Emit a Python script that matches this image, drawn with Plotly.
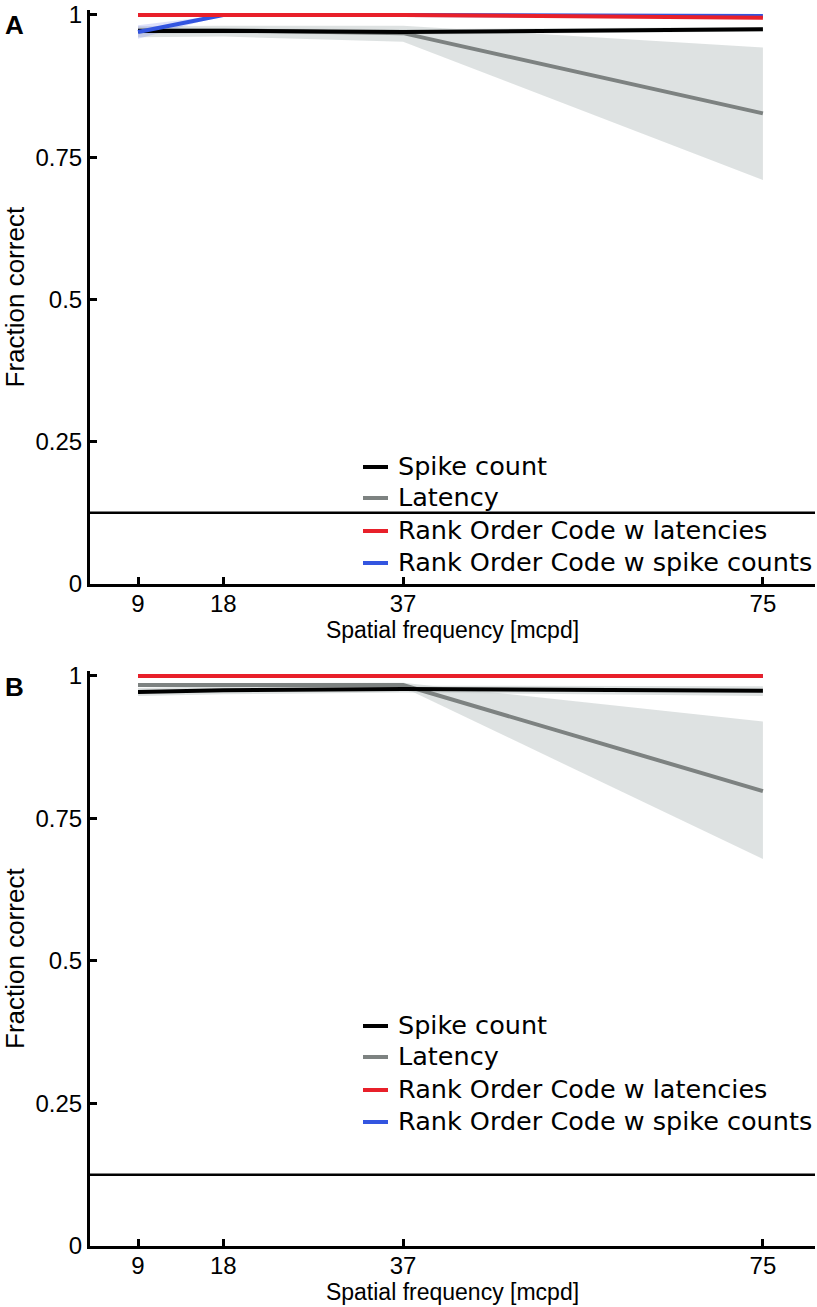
import plotly.graph_objects as go

# ---------------- data ----------------
spatial_freq = [9, 18, 37, 75]
chance_level = 0.125

# Panel A
spike_A = [0.972, 0.972, 0.970, 0.975]
spike_A_lo = [0.966, 0.967, 0.965, 0.971]
spike_A_hi = [0.978, 0.977, 0.975, 0.979]
lat_A = [0.973, 0.973, 0.968, 0.827]
lat_A_lo = [0.961, 0.962, 0.953, 0.710]
lat_A_hi = [0.980, 0.981, 0.981, 0.943]
roclat_A = [1.0, 1.0, 1.0, 0.995]
rocspk_A = [0.970, 1.0, 1.0, 0.998]
rocspk_A_lo = [0.958, 0.999, 0.999, 0.996]
rocspk_A_hi = [0.982, 1.0, 1.0, 1.0]

# Panel B
spike_B = [0.972, 0.975, 0.977, 0.974]
spike_B_lo = [0.965, 0.968, 0.971, 0.965]
spike_B_hi = [0.979, 0.982, 0.983, 0.982]
lat_B = [0.984, 0.984, 0.984, 0.798]
lat_B_lo = [0.981, 0.981, 0.980, 0.679]
lat_B_hi = [0.987, 0.987, 0.988, 0.920]
roclat_B = [1.0, 1.0, 1.0, 1.0]
rocspk_B = [1.0, 1.0, 1.0, 1.0]
rocspk_B_lo = [0.999, 0.999, 0.999, 0.999]
rocspk_B_hi = [1.0, 1.0, 1.0, 1.0]

names = ["Spike count", "Latency", "Rank Order Code w latencies", "Rank Order Code w spike counts"]
y_ticks = [0, 0.25, 0.5, 0.75, 1]
y_ticktext = ["0", "0.25", "0.5", "0.75", "1"]

C_BLACK = "#000000"
C_GRAY = "#7d8281"
C_RED = "#e8202a"
C_BLUE = "#3355e0"
colors = [C_BLACK, C_GRAY, C_RED, C_BLUE]
BAND_GRAY = "rgba(200,207,207,0.6)"
BAND_BLUE = "rgba(120,130,235,0.25)"

ARIAL = "Liberation Sans, Arial, sans-serif"
TICK_FONT = dict(family=ARIAL, size=24, color="black")
XTITLE_FONT = dict(family=ARIAL, size=23, color="black")
YTITLE_FONT = dict(family=ARIAL, size=26, color="black")
LEG_FONT = dict(family="DejaVu Sans, sans-serif", size=25.5, color="black")

W, H = 817, 1307
ML, MR = 90, 2
PW = W - ML - MR

fig = go.Figure()


def band(x, lo, hi, color, xa, ya):
    fig.add_trace(go.Scatter(x=x, y=hi, mode="lines", line=dict(width=0), showlegend=False,
                             hoverinfo="skip", xaxis=xa, yaxis=ya))
    fig.add_trace(go.Scatter(x=x, y=lo, mode="lines", line=dict(width=0), fill="tonexty",
                             fillcolor=color, showlegend=False, hoverinfo="skip", xaxis=xa, yaxis=ya))


def panel(xa, ya, sp, sp_lo, sp_hi, la, la_lo, la_hi, rl, rs, rs_lo, rs_hi):
    band(spatial_freq, la_lo, la_hi, BAND_GRAY, xa, ya)
    band(spatial_freq, sp_lo, sp_hi, BAND_GRAY, xa, ya)
    band(spatial_freq, rs_lo, rs_hi, BAND_BLUE, xa, ya)
    for y, nm, c in [(la, names[1], C_GRAY), (sp, names[0], C_BLACK),
                     (rs, names[3], C_BLUE), (rl, names[2], C_RED)]:
        fig.add_trace(go.Scatter(x=spatial_freq, y=y, mode="lines", name=nm,
                                 line=dict(color=c, width=4), showlegend=False,
                                 xaxis=xa, yaxis=ya))
    fig.add_shape(type="line", xref=f"{xa} domain", yref=ya, x0=0, x1=1,
                  y0=chance_level, y1=chance_level, line=dict(color="black", width=2.5))


panel("x", "y", spike_A, spike_A_lo, spike_A_hi, lat_A, lat_A_lo, lat_A_hi,
      roclat_A, rocspk_A, rocspk_A_lo, rocspk_A_hi)
panel("x2", "y2", spike_B, spike_B_lo, spike_B_hi, lat_B, lat_B_lo, lat_B_hi,
      roclat_B, rocspk_B, rocspk_B_lo, rocspk_B_hi)

domA = [1 - 584 / H, 1 - 10.4 / H]
domB = [1 - 1246 / H, 1 - 671.4 / H]

xax = dict(range=[3.93, 80.5], tickvals=spatial_freq, ticktext=[str(v) for v in spatial_freq],
           ticks="inside", ticklen=7, tickwidth=3, tickcolor="black",
           showline=True, linewidth=3, linecolor="black", showgrid=False, zeroline=False,
           tickfont=TICK_FONT, automargin=False, ticklabelstandoff=-4,
           title=dict(text="Spatial frequency [mcpd]", font=XTITLE_FONT, standoff=0))
yax = dict(range=[0, 1.008], tickvals=y_ticks, ticktext=y_ticktext,
           ticks="inside", ticklen=7, tickwidth=3, tickcolor="black",
           showline=True, linewidth=3, linecolor="black", showgrid=False, zeroline=False,
           tickfont=TICK_FONT, automargin=False,
           title=dict(text="Fraction correct", font=YTITLE_FONT, standoff=6))

# manual legends (text + short line samples), placed in pixel terms
annotations = []
shapes = []


def px_x(px):
    return (px - ML) / PW


def px_y(py):
    return 1 - py / H


for rows in ([466, 497, 530, 562], [1025, 1056, 1089, 1121]):
    for ry, nm, c in zip(rows, names, colors):
        annotations.append(dict(text=nm, x=px_x(396), y=px_y(ry), xref="paper", yref="paper",
                                xanchor="left", yanchor="middle", showarrow=False, font=LEG_FONT))
        shapes.append(dict(type="line", xref="paper", yref="paper", x0=px_x(363), x1=px_x(388),
                           y0=px_y(ry + 1), y1=px_y(ry + 1), line=dict(color=c, width=4)))

for letter, py in (("A", 25), ("B", 687)):
    annotations.append(dict(text=f"<b>{letter}</b>", x=px_x(3), y=px_y(py), xref="paper", yref="paper",
                            xanchor="left", yanchor="middle", showarrow=False,
                            font=dict(family=ARIAL, size=26, color="black")))

fig.update_layout(
    width=W, height=H,
    margin=dict(l=ML, r=MR, t=0, b=0),
    plot_bgcolor="white", paper_bgcolor="white",
    xaxis=dict(xax, domain=[0, 1], anchor="y"),
    yaxis=dict(yax, domain=domA, anchor="x"),
    xaxis2=dict(xax, domain=[0, 1], anchor="y2"),
    yaxis2=dict(yax, domain=domB, anchor="x2"),
    showlegend=False,
    hovermode=False,
    annotations=annotations,
)
for s in shapes:
    fig.add_shape(**s)

fig.write_html("out.html", config={"displayModeBar": False, "staticPlot": True},
               post_script="document.body.style.margin='0';document.body.style.overflow='hidden';")
